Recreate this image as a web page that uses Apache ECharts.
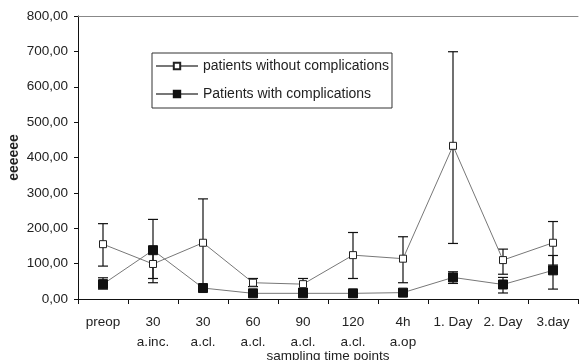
<!DOCTYPE html>
<html><head><meta charset="utf-8">
<script src="https://cdn.jsdelivr.net/npm/echarts@6/dist/echarts.min.js"></script>
<style>html,body{margin:0;padding:0;background:#fff}#c{width:580px;height:360px}</style>
</head><body><div id="c"></div>
<script>
const categories = ["preop","30\na.inc.","30\na.cl.","60\na.cl.","90\na.cl.","120\na.cl.","4h\na.op","1. Day","2. Day","3.day"];
const withoutMean  = [155, 99, 159, 46, 42, 124, 114, 433, 110, 159];
const withoutLow   = [93, 58, 35, 35, 30, 58, 46, 157, 70, 96];
const withoutHigh  = [213, 140, 283, 58, 58, 188, 176, 699, 141, 219];
const withMean     = [42, 138, 31, 16, 16, 16, 18, 61, 41, 81];
const withLow      = [28, 46, 25, 9, 9, 6, 12, 44, 17, 28];
const withHigh     = [60, 225, 38, 25, 24, 26, 25, 77, 61, 123];
const yTicks = [0,100,200,300,400,500,600,700,800];

const chart = echarts.init(document.getElementById('c'));
function errSeries(low, high, name) {
  return {
    type: 'custom', name: name + ' err', silent: true, z: 1,
    data: low.map((l, i) => [i, l, high[i]]),
    renderItem: function (params, api) {
      const lo = api.coord([api.value(0), api.value(1)]);
      const hi = api.coord([api.value(0), api.value(2)]);
      const w = 5;
      const st = {stroke: '#111', lineWidth: 1.2};
      return {type: 'group', children: [
        {type: 'line', shape: {x1: lo[0], y1: lo[1], x2: hi[0], y2: hi[1]}, style: st},
        {type: 'line', shape: {x1: lo[0]-w, y1: lo[1], x2: lo[0]+w, y2: lo[1]}, style: st},
        {type: 'line', shape: {x1: hi[0]-w, y1: hi[1], x2: hi[0]+w, y2: hi[1]}, style: st}
      ]};
    }
  };
}
const font = 'Liberation Sans, Arial, sans-serif';
chart.setOption({
  animation: false,
  textStyle: {fontFamily: font},
  grid: {left: 78, right: 2, top: 16, bottom: 61, outerBoundsMode: 'none', containLabel: false},
  legend: {
    left: 152, top: 53, orient: 'vertical', itemGap: 14,
    borderColor: '#333', borderWidth: 1, padding: [6, 3, 7, 3],
    itemWidth: 42, itemHeight: 8,
    textStyle: {fontSize: 14, color: '#222', fontFamily: font, lineHeight: 14},
    data: ['patients without complications', 'Patients with complications']
  },
  xAxis: [{
    type: 'category', data: categories, boundaryGap: true,
    axisLine: {lineStyle: {color: '#111', width: 1}},
    axisTick: {show: true, length: 5, lineStyle: {color: '#111'}},
    axisLabel: {fontSize: 13.5, color: '#222', margin: 13, lineHeight: 20, interval: 0},
    name: 'sampling time points', nameLocation: 'middle', nameGap: 50, nameMoveOverlap: false,
    nameTextStyle: {fontSize: 13.5, color: '#222'}
  }, {
    type: 'category', data: categories, position: 'top',
    axisLine: {show: true, lineStyle: {color: '#888', width: 1}},
    axisTick: {show: false}, axisLabel: {show: false}
  }],
  yAxis: {
    type: 'value', min: 0, max: 800, interval: 100,
    axisLine: {show: true, lineStyle: {color: '#111'}},
    axisTick: {show: true, length: 4, lineStyle: {color: '#111'}},
    splitLine: {show: false},
    axisLabel: {fontSize: 13.5, color: '#222', margin: 10,
      formatter: v => v.toFixed(2).replace('.', ',')},
    name: 'eeeeee', nameLocation: 'middle', nameGap: 57, nameRotate: 90, nameMoveOverlap: false,
    nameTextStyle: {fontSize: 14, fontWeight: 'bold', color: '#222'}
  },
  series: [
    errSeries(withoutLow, withoutHigh, 'without'),
    errSeries(withLow, withHigh, 'with'),
    {
      name: 'patients without complications', type: 'line', data: withoutMean, z: 3,
      symbol: 'rect', symbolSize: 7,
      lineStyle: {color: '#777', width: 1},
      itemStyle: {color: '#fff', borderColor: '#222', borderWidth: 1}
    },
    {
      name: 'Patients with complications', type: 'line', data: withMean, z: 3,
      symbol: 'rect', symbolSize: 9,
      lineStyle: {color: '#777', width: 1},
      itemStyle: {color: '#111', borderColor: '#111', borderWidth: 1}
    }
  ]
});
</script></body></html>
